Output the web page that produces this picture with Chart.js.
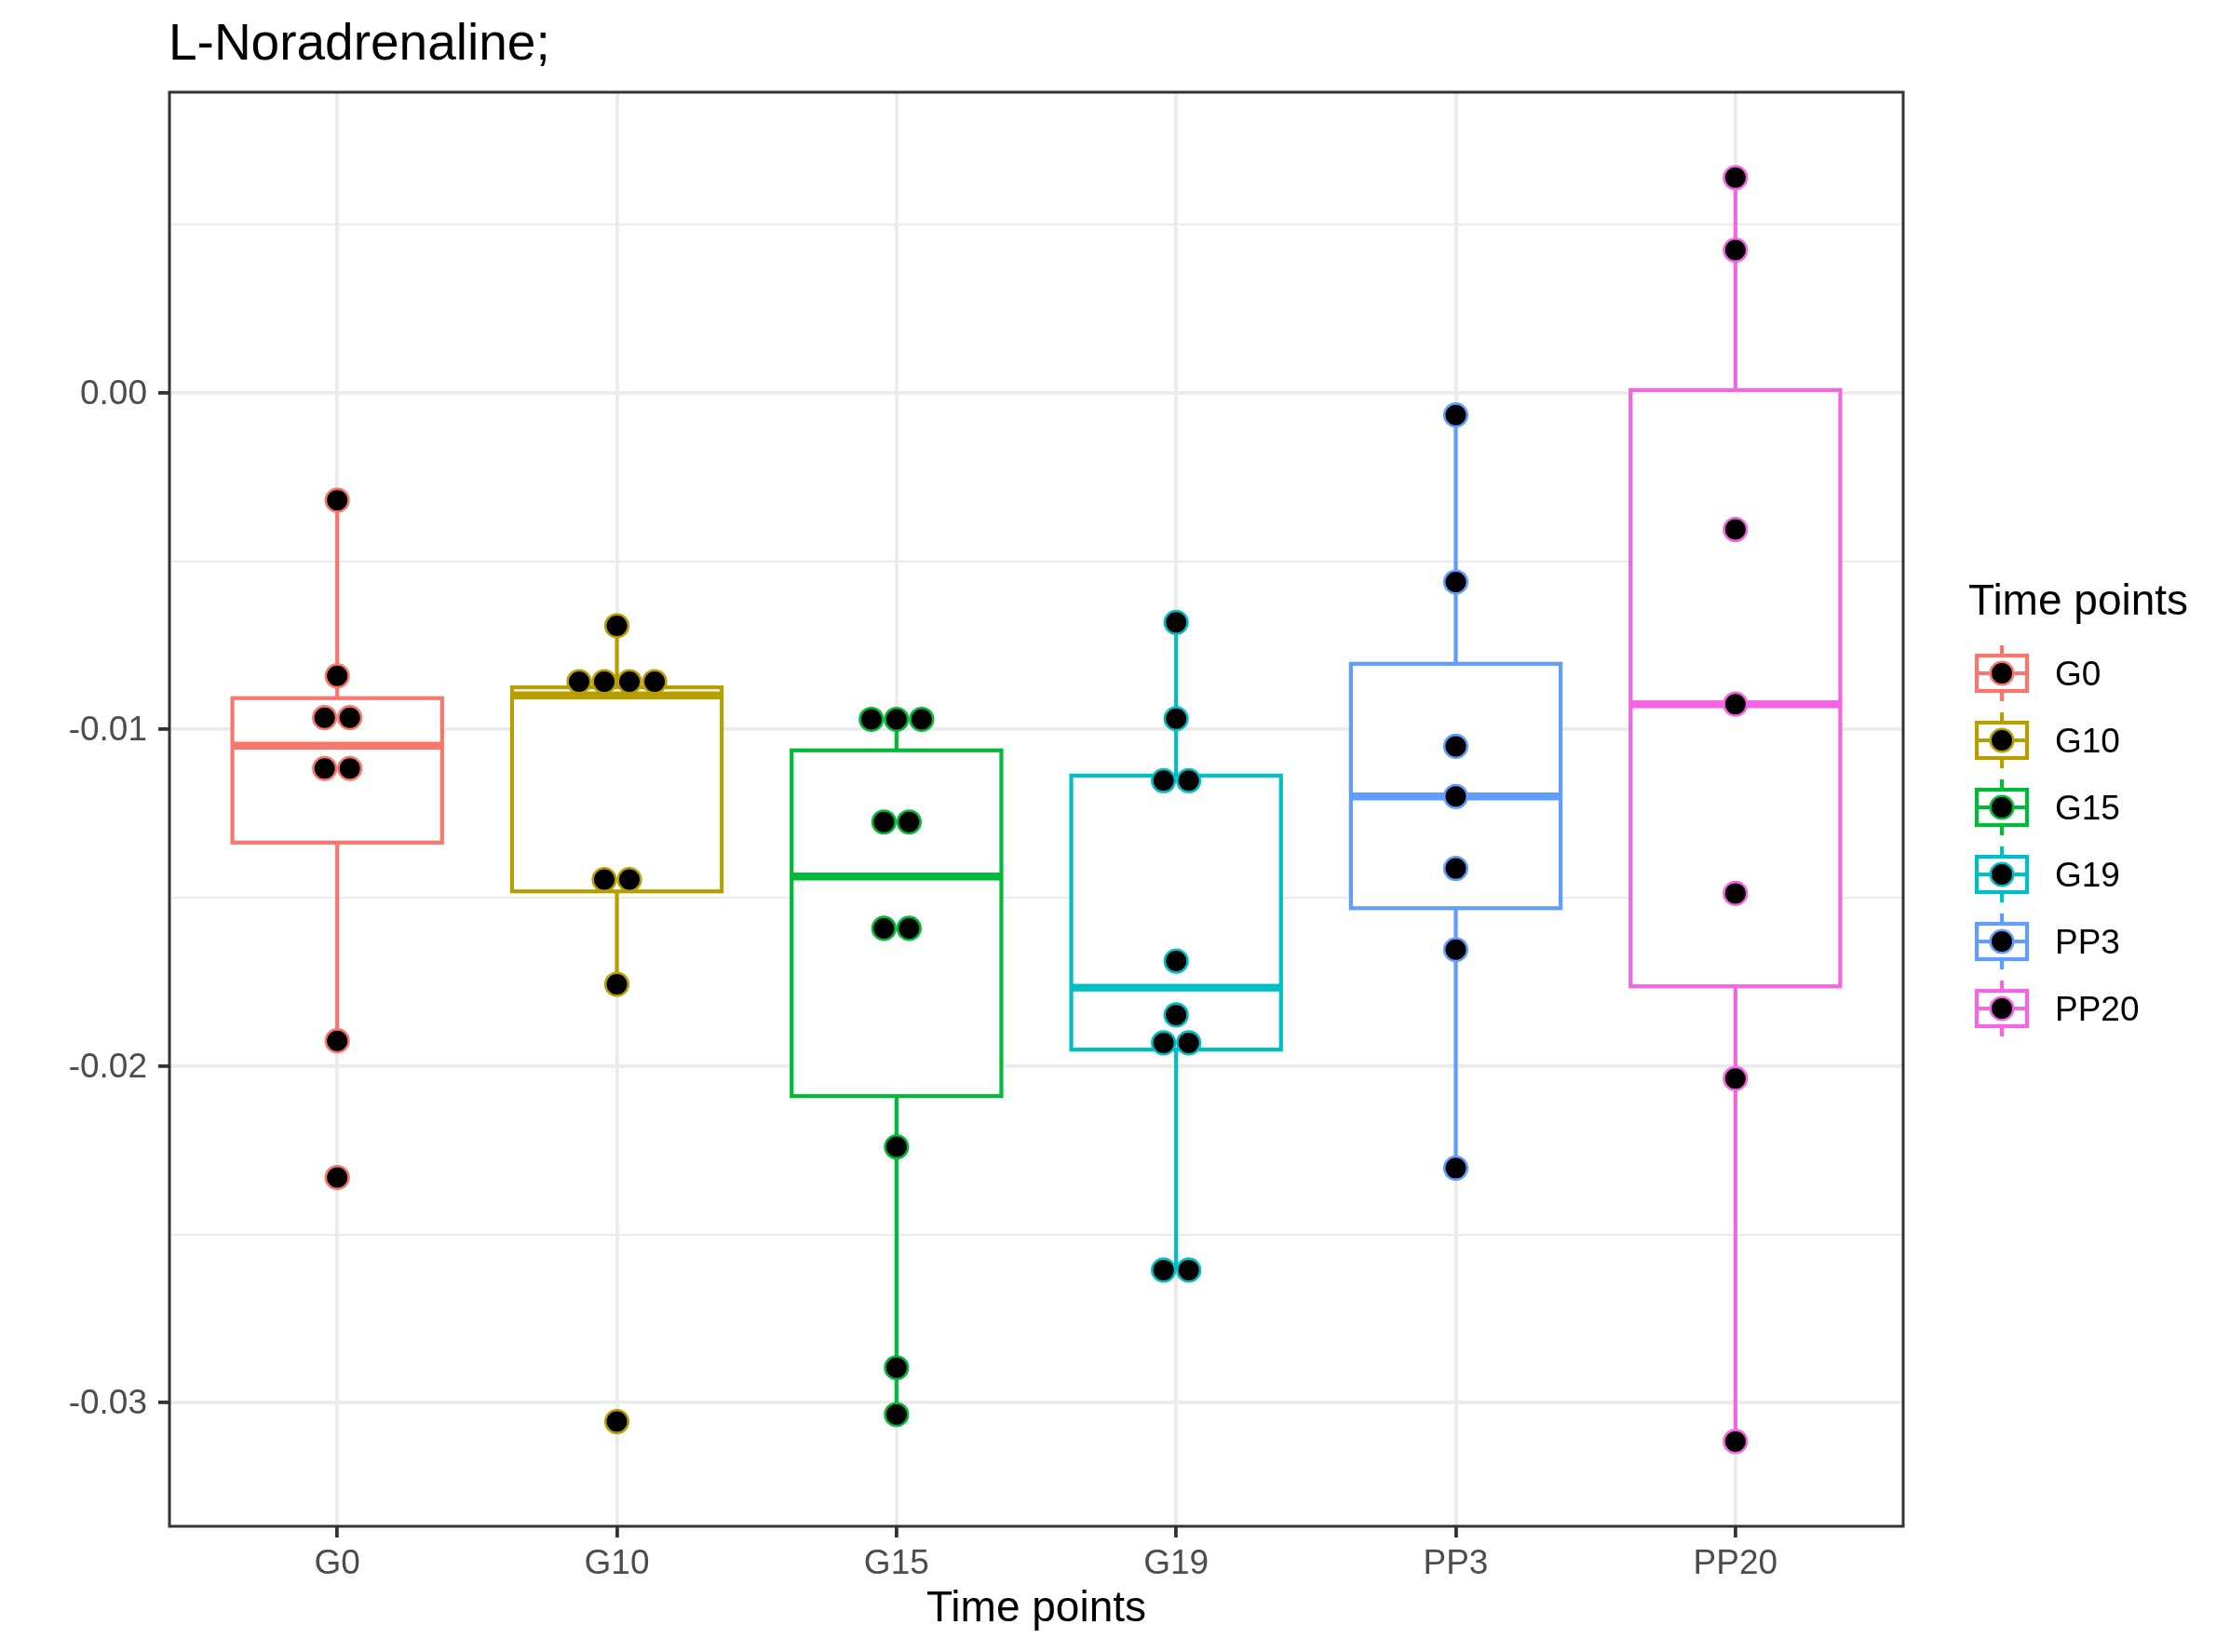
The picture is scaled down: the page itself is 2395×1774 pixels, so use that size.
<!DOCTYPE html>
<html><head><meta charset="utf-8">
<script src="https://cdn.jsdelivr.net/npm/chart.js@4.4.1/dist/chart.umd.min.js"></script>
<style>
html,body{margin:0;padding:0;background:#fff;}
#wrap{position:relative;width:2395px;height:1774px;overflow:hidden;background:#fff;}
#c{position:absolute;left:0;top:0;}
.t{position:absolute;font-family:"Liberation Sans",Arial,Helvetica,sans-serif;line-height:1;white-space:nowrap;color:#000;}
</style></head><body>
<div id="wrap">
<canvas id="c" width="2395" height="1774"></canvas>
<div class="t" style="left:181px;top:18px;font-size:55px;">L-Noradrenaline;</div>
<div class="t" style="left:2114px;top:621px;font-size:46px;">Time points</div>
<div id="legItems"></div>
</div>
<script>
// ---- data ----
const categories = ['G0','G10','G15','G19','PP3','PP20'];
const groupColors = ['#F8766D','#B79F00','#00BA38','#00BFC4','#619CFF','#F564E3'];

const valuesG0   = [-0.00319, -0.00841, -0.00965, -0.00965, -0.01116, -0.01116, -0.01925, -0.02331];
const valuesG10  = [-0.00692, -0.00858, -0.00858, -0.00858, -0.00858, -0.01446, -0.01446, -0.01757, -0.03056];
const valuesG15  = [-0.00970, -0.00970, -0.00970, -0.01275, -0.01275, -0.01591, -0.01591, -0.02240, -0.02896, -0.03035];
const valuesG19  = [-0.00682, -0.00968, -0.01152, -0.01152, -0.01688, -0.01848, -0.01931, -0.01931, -0.02606, -0.02606];
const valuesPP3  = [-0.00066, -0.00562, -0.01050, -0.01199, -0.01413, -0.01654, -0.02303];
const valuesPP20 = [0.00639, 0.00424, -0.00406, -0.00925, -0.01487, -0.02037, -0.03115];

const boxUpper     = [-0.00907, -0.00875, -0.01062, -0.01137, -0.00805, 0.00008];
const boxMedian    = [-0.01048, -0.00899, -0.01437, -0.01767, -0.01199, -0.00925];
const boxLower     = [-0.01336, -0.01481, -0.02089, -0.01951, -0.01531, -0.01763];
const whiskerHigh  = [-0.00319, -0.00692, -0.00970, -0.00682, -0.00066, 0.00639];
const whiskerLow   = [-0.01925, -0.01757, -0.03035, -0.02606, -0.02303, -0.03115];

const yTickValues  = [-0.03, -0.025, -0.02, -0.015, -0.01, -0.005, 0, 0.005];
const yMajorTicks  = [-0.03, -0.02, -0.01, 0];
const yMin = -0.03367, yMax = 0.00893;

// ---- build ----
const groupValues = [valuesG0, valuesG10, valuesG15, valuesG19, valuesPP3, valuesPP20];
const FONT = '"Liberation Sans", Arial, Helvetica, sans-serif';
const dotStep = 0.09;      // dot-plot stacking width (category units)
const boxHalf = 0.375;     // half box width (category units)
const isMajor = v => yMajorTicks.some(m => Math.abs(m - v) < 1e-9);

const datasets = groupValues.map((vals, i) => {
  const counts = {};
  vals.forEach(v => { counts[v] = (counts[v] || 0) + 1; });
  const seen = {};
  const pts = vals.map(v => {
    const n = counts[v];
    const k = seen[v] = (seen[v] === undefined ? 0 : seen[v] + 1);
    return { x: i + (k - (n - 1) / 2) * dotStep, y: v };
  });
  return {
    label: categories[i], data: pts,
    pointRadius: 12.3, pointBorderWidth: 2.6,
    pointBackgroundColor: '#000000', pointBorderColor: groupColors[i],
    pointHoverRadius: 12.3, clip: false
  };
});

const legendX = 2150, legendY0 = 723, legendStep = 72;

const ggPlugin = {
  id: 'ggbox',
  beforeDatasetsDraw(chart) {
    const { ctx, scales: { x, y } } = chart;
    categories.forEach((c, i) => {
      const cx = x.getPixelForValue(i);
      const xl = x.getPixelForValue(i - boxHalf), xr = x.getPixelForValue(i + boxHalf);
      const yu = y.getPixelForValue(boxUpper[i]), yl = y.getPixelForValue(boxLower[i]);
      const ym = y.getPixelForValue(boxMedian[i]);
      const yh = y.getPixelForValue(whiskerHigh[i]), ylo = y.getPixelForValue(whiskerLow[i]);
      ctx.save();
      ctx.strokeStyle = groupColors[i];
      ctx.lineWidth = 4.2;
      ctx.beginPath();
      ctx.moveTo(cx, yu); ctx.lineTo(cx, yh);
      ctx.moveTo(cx, yl); ctx.lineTo(cx, ylo);
      ctx.stroke();
      ctx.fillStyle = '#ffffff';
      ctx.fillRect(xl, yu, xr - xl, yl - yu);
      ctx.strokeRect(xl, yu, xr - xl, yl - yu);
      ctx.lineWidth = 8.4;
      ctx.beginPath(); ctx.moveTo(xl, ym); ctx.lineTo(xr, ym); ctx.stroke();
      ctx.restore();
    });
  },
  afterDatasetsDraw(chart) {
    const { ctx, chartArea: a } = chart;
    ctx.save();
    ctx.strokeStyle = '#333333';
    ctx.lineWidth = 3;
    ctx.strokeRect(a.left, a.top, a.right - a.left, a.bottom - a.top);
    // legend keys
    categories.forEach((c, i) => {
      const cy = legendY0 + i * legendStep;
      ctx.strokeStyle = groupColors[i];
      ctx.lineWidth = 4.2;
      ctx.beginPath(); ctx.moveTo(legendX, cy - 30); ctx.lineTo(legendX, cy + 30); ctx.stroke();
      ctx.fillStyle = '#ffffff';
      ctx.fillRect(legendX - 27, cy - 19, 54, 38);
      ctx.strokeRect(legendX - 27, cy - 19, 54, 38);
      ctx.beginPath(); ctx.moveTo(legendX - 27, cy); ctx.lineTo(legendX + 27, cy); ctx.stroke();
      ctx.beginPath(); ctx.arc(legendX, cy, 12.3, 0, Math.PI * 2);
      ctx.fillStyle = '#000000'; ctx.fill();
      ctx.lineWidth = 2.6; ctx.stroke();
    });
    ctx.restore();
  }
};

const legItems = document.getElementById('legItems');
categories.forEach((c, i) => {
  const d = document.createElement('div');
  d.className = 't';
  d.style.left = '2207px';
  d.style.top = (legendY0 + i * legendStep - 18.3) + 'px';
  d.style.fontSize = '37px';
  d.textContent = c;
  legItems.appendChild(d);
});

new Chart(document.getElementById('c'), {
  type: 'scatter',
  data: { datasets },
  options: {
    responsive: false, animation: false, devicePixelRatio: 1,
    layout: { padding: { top: 99, right: 351, left: 0, bottom: 0 } },
    plugins: { legend: { display: false }, tooltip: { enabled: false }, title: { display: false } },
    events: [],
    scales: {
      x: {
        type: 'linear', min: -0.6, max: 5.6,
        afterBuildTicks: s => { s.ticks = categories.map((c, i) => ({ value: i })); },
        afterFit: s => { s.height = 135; },
        ticks: { callback: v => categories[v] ?? '', font: { family: FONT, size: 37 }, color: '#4D4D4D', padding: 7, maxRotation: 0, autoSkip: false },
        grid: { color: '#EBEBEB', lineWidth: 3.8, tickColor: '#333333', tickWidth: 3.8, tickLength: 12 },
        border: { display: false },
        title: { display: true, text: 'Time points', font: { family: FONT, size: 46 }, color: '#000000', padding: { top: 0, bottom: 18 } }
      },
      y: {
        type: 'linear', min: yMin, max: yMax,
        afterBuildTicks: s => { s.ticks = yTickValues.map(v => ({ value: v })); },
        afterFit: s => { s.width = 182; },
        ticks: { callback: v => isMajor(v) ? v.toFixed(2) : '', font: { family: FONT, size: 37 }, color: '#4D4D4D', padding: 12, autoSkip: false, labelOffset: 1.5 },
        grid: {
          color: '#EBEBEB',
          lineWidth: ctx => isMajor(ctx.tick.value) ? 3.8 : 2,
          tickColor: ctx => isMajor(ctx.tick.value) ? '#333333' : 'rgba(0,0,0,0)',
          tickWidth: 3.8, tickLength: 12
        },
        border: { display: false }
      }
    }
  },
  plugins: [ggPlugin]
});
</script>
</body></html>
